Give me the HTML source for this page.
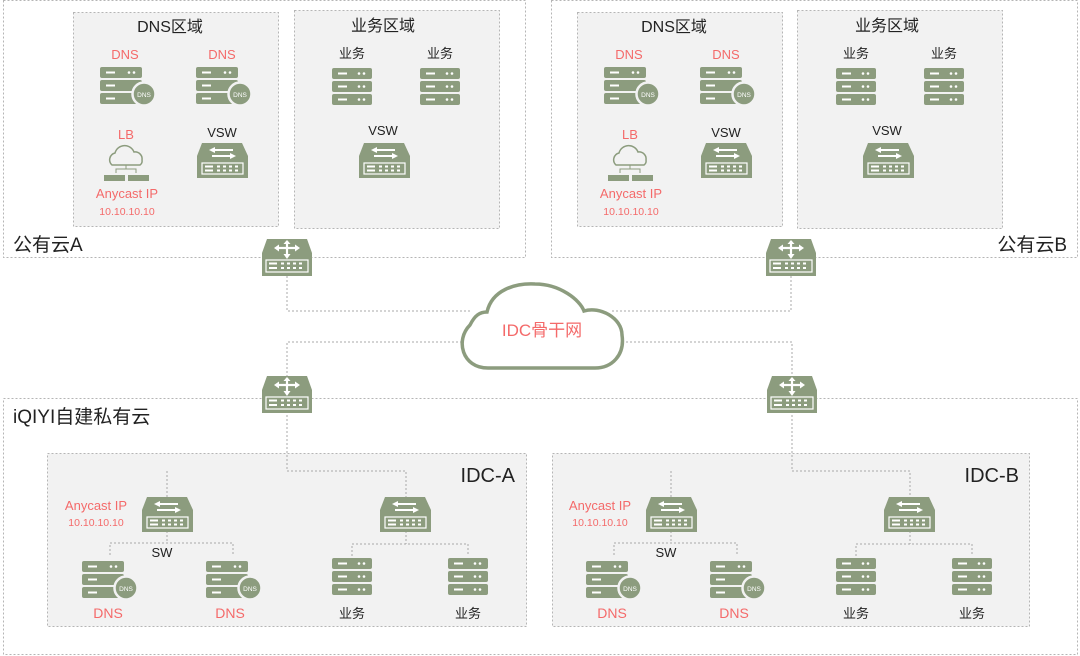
<!DOCTYPE html>
<html><head><meta charset="utf-8"><style>
html,body{margin:0;padding:0;background:#fff;}
svg{display:block;}
text{font-family:"Liberation Sans","Noto Sans CJK SC",sans-serif;}
</style></head><body>
<svg width="1080" height="656" viewBox="0 0 1080 656" xmlns="http://www.w3.org/2000/svg">
<defs>
<g id="srv">
 <rect x="0" y="0" width="40" height="11" rx="2" fill="#8c9c7e"/>
 <rect x="0" y="13" width="40" height="11" rx="2" fill="#8c9c7e"/>
 <rect x="0" y="26" width="40" height="11" rx="2" fill="#8c9c7e"/>
 <g stroke="#fff" stroke-width="2"><line x1="6" y1="5.5" x2="15" y2="5.5"/><line x1="6" y1="18.5" x2="15" y2="18.5"/><line x1="6" y1="31.5" x2="15" y2="31.5"/></g>
 <g fill="#fff"><circle cx="27" cy="5.5" r="1.3"/><circle cx="32" cy="5.5" r="1.3"/><circle cx="27" cy="18.5" r="1.3"/><circle cx="32" cy="18.5" r="1.3"/><circle cx="27" cy="31.5" r="1.3"/><circle cx="32" cy="31.5" r="1.3"/></g>
</g>
<g id="dns">
 <rect x="0" y="0" width="42" height="11" rx="2" fill="#8c9c7e"/>
 <rect x="0" y="13" width="42" height="11" rx="2" fill="#8c9c7e"/>
 <rect x="0" y="26" width="42" height="11" rx="2" fill="#8c9c7e"/>
 <g stroke="#fff" stroke-width="2"><line x1="6" y1="5.5" x2="15" y2="5.5"/><line x1="6" y1="18.5" x2="15" y2="18.5"/><line x1="6" y1="31.5" x2="15" y2="31.5"/></g>
 <g fill="#fff"><circle cx="29" cy="5.5" r="1.3"/><circle cx="34" cy="5.5" r="1.3"/></g>
 <circle cx="44" cy="27" r="11.5" fill="#8c9c7e" stroke="#f2f2f2" stroke-width="2.5"/>
</g>
<g id="sw">
 <path d="M5,0 H45 L51,13 V35 H0 V13 Z" fill="#8c9c7e"/>
 <g stroke="#fff" stroke-width="2" fill="#fff">
  <line x1="15" y1="7" x2="36" y2="7"/><path d="M12,7 L18,4 L18,10 Z" stroke="none"/>
  <line x1="15" y1="13" x2="36" y2="13"/><path d="M39,13 L33,10 L33,16 Z" stroke="none"/>
 </g>
 <rect x="5" y="20" width="41" height="11" fill="none" stroke="#fff" stroke-width="1.2"/>
 <g fill="#fff"><rect x="8" y="22.5" width="8" height="2"/><rect x="8" y="26.5" width="8" height="2"/>
 <rect x="20" y="22.5" width="3" height="2"/><rect x="26" y="22.5" width="3" height="2"/><rect x="32" y="22.5" width="3" height="2"/><rect x="38" y="22.5" width="3" height="2"/>
 <rect x="20" y="26.5" width="3" height="2"/><rect x="26" y="26.5" width="3" height="2"/><rect x="32" y="26.5" width="3" height="2"/><rect x="38" y="26.5" width="3" height="2"/></g>
</g>
<g id="rt">
 <path d="M5,0 H45 L50,14 V37 H0 V14 Z" fill="#8c9c7e"/>
 <g stroke="#fff" stroke-width="2.2"><line x1="15" y1="9" x2="35" y2="9"/><line x1="25" y1="2" x2="25" y2="17"/></g>
 <g fill="#fff"><path d="M12,9 L17,5.5 L17,12.5Z"/><path d="M38,9 L33,5.5 L33,12.5Z"/><path d="M25,20 L21.5,15 L28.5,15Z"/><path d="M25,1 L21.5,5 L28.5,5Z"/></g>
 <rect x="4" y="21" width="42" height="12" fill="none" stroke="#fff" stroke-width="1.2"/>
 <g fill="#fff"><rect x="7" y="23.5" width="8" height="2"/><rect x="7" y="28" width="8" height="2"/>
 <rect x="19" y="23.5" width="3" height="2"/><rect x="25" y="23.5" width="3" height="2"/><rect x="31" y="23.5" width="3" height="2"/><rect x="37" y="23.5" width="3" height="2"/>
 <rect x="19" y="28" width="3" height="2"/><rect x="25" y="28" width="3" height="2"/><rect x="31" y="28" width="3" height="2"/><rect x="37" y="28" width="3" height="2"/></g>
</g>
<g id="lb">
 <path d="M8,18 a7,7 0 0 1 3,-12 a10,10 0 0 1 19,-1 a7,7 0 0 1 8,8 a5,5 0 0 1 -2,5 Z" fill="none" stroke="#8c9c7e" stroke-width="1.5"/>
 <g stroke="#8c9c7e" stroke-width="1" fill="none"><path d="M22,18 V22 M22,22 H12 V26 M22,22 H32 V26"/></g>
 <rect x="0" y="28" width="21" height="6" fill="#8c9c7e"/><rect x="24" y="28" width="21" height="6" fill="#8c9c7e"/>
</g>
</defs>

<g fill="none" stroke="#b5b5b5" stroke-width="1" stroke-dasharray="2,2">
 <rect x="3.5" y="0.5" width="522" height="257"/>
 <rect x="551.5" y="0.5" width="526" height="257"/>
 <rect x="3.5" y="398.5" width="1074" height="256"/>
</g>
<g fill="#f2f2f2" stroke="#b5b5b5" stroke-width="1" stroke-dasharray="2,2">
 <rect x="73.5" y="12.5" width="205" height="214"/>
 <rect x="294.5" y="10.5" width="205" height="218"/>
 <rect x="577.5" y="12.5" width="205" height="214"/>
 <rect x="797.5" y="10.5" width="205" height="218"/>
 <rect x="47.5" y="453.5" width="479" height="173"/>
 <rect x="552.5" y="453.5" width="477" height="173"/>
</g>

<!-- connectors -->
<g fill="none" stroke="#a8a8a8" stroke-width="1" stroke-dasharray="2,2">
 <path d="M287,276 V311 H470"/>
 <path d="M791,276 V311 H610"/>
 <path d="M462,342 H287 V378"/>
 <path d="M622,342 H792 V378"/>
 <path d="M287,415 V471 H406 V497 M167,471 V497"/>
 <path d="M792,415 V471 H910 V497 M671,471 V497"/>
 <path d="M167,531 V543 M110,555 V543 H233 V555"/>
 <path d="M406,531 V544 M352,556 V544 H468 V556"/>
 <path d="M671,531 V543 M614,555 V543 H737 V555"/>
 <path d="M910,531 V544 M856,556 V544 H972 V556"/>
</g>

<!-- cloud -->
<path d="M488,368 C462,368 455,340 470,325 C475,315 480,312 487,312 C492,290 515,283 535,284 C560,284 580,300 584,311 C600,306 622,318 622,335 C625,355 612,368 595,368 Z" fill="#fff" stroke="#8c9c7e" stroke-width="3.5"/>
<text x="542" y="336" font-size="17" fill="#f46a6a" text-anchor="middle">IDC骨干网</text>

<!-- routers -->
<use href="#rt" x="262" y="239"/>
<use href="#rt" x="766" y="239"/>
<use href="#rt" x="262" y="376"/>
<use href="#rt" x="767" y="376"/>

<!-- Public cloud A -->
<g id="pubA">
<text x="170" y="32" font-size="16" fill="#222" text-anchor="middle">DNS区域</text>
<text x="383" y="31" font-size="16" fill="#222" text-anchor="middle">业务区域</text>
<text x="125" y="59" font-size="13" fill="#f46a6a" text-anchor="middle">DNS</text>
<text x="222" y="59" font-size="13" fill="#f46a6a" text-anchor="middle">DNS</text>
<use href="#dns" x="100" y="67"/><text x="144" y="97" font-size="6.5" fill="#fff" text-anchor="middle">DNS</text>
<use href="#dns" x="196" y="67"/><text x="240" y="97" font-size="6.5" fill="#fff" text-anchor="middle">DNS</text>
<text x="352" y="58" font-size="13" fill="#222" text-anchor="middle">业务</text>
<text x="440" y="58" font-size="13" fill="#222" text-anchor="middle">业务</text>
<use href="#srv" x="332" y="68"/>
<use href="#srv" x="420" y="68"/>
<text x="126" y="139" font-size="13" fill="#f46a6a" text-anchor="middle">LB</text>
<use href="#lb" x="104" y="147"/>
<text x="127" y="198" font-size="13" fill="#f46a6a" text-anchor="middle">Anycast IP</text>
<text x="127" y="215" font-size="10.5" fill="#f46a6a" text-anchor="middle">10.10.10.10</text>
<text x="222" y="137" font-size="13" fill="#222" text-anchor="middle">VSW</text>
<use href="#sw" x="197" y="143"/>
<text x="383" y="135" font-size="13" fill="#222" text-anchor="middle">VSW</text>
<use href="#sw" x="359" y="143"/>
</g>
<text x="13" y="251" font-size="19" fill="#222">公有云A</text>

<!-- Public cloud B -->
<g transform="translate(504,0)">
<text x="170" y="32" font-size="16" fill="#222" text-anchor="middle">DNS区域</text>
<text x="383" y="31" font-size="16" fill="#222" text-anchor="middle">业务区域</text>
<text x="125" y="59" font-size="13" fill="#f46a6a" text-anchor="middle">DNS</text>
<text x="222" y="59" font-size="13" fill="#f46a6a" text-anchor="middle">DNS</text>
<use href="#dns" x="100" y="67"/><text x="144" y="97" font-size="6.5" fill="#fff" text-anchor="middle">DNS</text>
<use href="#dns" x="196" y="67"/><text x="240" y="97" font-size="6.5" fill="#fff" text-anchor="middle">DNS</text>
<text x="352" y="58" font-size="13" fill="#222" text-anchor="middle">业务</text>
<text x="440" y="58" font-size="13" fill="#222" text-anchor="middle">业务</text>
<use href="#srv" x="332" y="68"/>
<use href="#srv" x="420" y="68"/>
<text x="126" y="139" font-size="13" fill="#f46a6a" text-anchor="middle">LB</text>
<use href="#lb" x="104" y="147"/>
<text x="127" y="198" font-size="13" fill="#f46a6a" text-anchor="middle">Anycast IP</text>
<text x="127" y="215" font-size="10.5" fill="#f46a6a" text-anchor="middle">10.10.10.10</text>
<text x="222" y="137" font-size="13" fill="#222" text-anchor="middle">VSW</text>
<use href="#sw" x="197" y="143"/>
<text x="383" y="135" font-size="13" fill="#222" text-anchor="middle">VSW</text>
<use href="#sw" x="359" y="143"/>
</g>
<text x="1067" y="251" font-size="19" fill="#222" text-anchor="end">公有云B</text>

<text x="13" y="423" font-size="19" fill="#222">iQIYI自建私有云</text>

<!-- IDC-A -->
<g>
<text x="515" y="482" font-size="20" fill="#222" text-anchor="end">IDC-A</text>
<text x="96" y="510" font-size="13" fill="#f46a6a" text-anchor="middle">Anycast IP</text>
<text x="96" y="526" font-size="10.5" fill="#f46a6a" text-anchor="middle">10.10.10.10</text>
<use href="#sw" x="142" y="497"/>
<use href="#sw" x="380" y="497"/>
<text x="162" y="557" font-size="13" fill="#222" text-anchor="middle">SW</text>
<use href="#dns" x="82" y="561"/><text x="126" y="591" font-size="6.5" fill="#fff" text-anchor="middle">DNS</text>
<use href="#dns" x="206" y="561"/><text x="250" y="591" font-size="6.5" fill="#fff" text-anchor="middle">DNS</text>
<use href="#srv" x="332" y="558"/>
<use href="#srv" x="448" y="558"/>
<text x="108" y="618" font-size="14" fill="#f46a6a" text-anchor="middle">DNS</text>
<text x="230" y="618" font-size="14" fill="#f46a6a" text-anchor="middle">DNS</text>
<text x="352" y="618" font-size="13" fill="#222" text-anchor="middle">业务</text>
<text x="468" y="618" font-size="13" fill="#222" text-anchor="middle">业务</text>
</g>
<!-- IDC-B -->
<g transform="translate(504,0)">
<text x="515" y="482" font-size="20" fill="#222" text-anchor="end">IDC-B</text>
<text x="96" y="510" font-size="13" fill="#f46a6a" text-anchor="middle">Anycast IP</text>
<text x="96" y="526" font-size="10.5" fill="#f46a6a" text-anchor="middle">10.10.10.10</text>
<use href="#sw" x="142" y="497"/>
<use href="#sw" x="380" y="497"/>
<text x="162" y="557" font-size="13" fill="#222" text-anchor="middle">SW</text>
<use href="#dns" x="82" y="561"/><text x="126" y="591" font-size="6.5" fill="#fff" text-anchor="middle">DNS</text>
<use href="#dns" x="206" y="561"/><text x="250" y="591" font-size="6.5" fill="#fff" text-anchor="middle">DNS</text>
<use href="#srv" x="332" y="558"/>
<use href="#srv" x="448" y="558"/>
<text x="108" y="618" font-size="14" fill="#f46a6a" text-anchor="middle">DNS</text>
<text x="230" y="618" font-size="14" fill="#f46a6a" text-anchor="middle">DNS</text>
<text x="352" y="618" font-size="13" fill="#222" text-anchor="middle">业务</text>
<text x="468" y="618" font-size="13" fill="#222" text-anchor="middle">业务</text>
</g>
</svg>
</body></html>
